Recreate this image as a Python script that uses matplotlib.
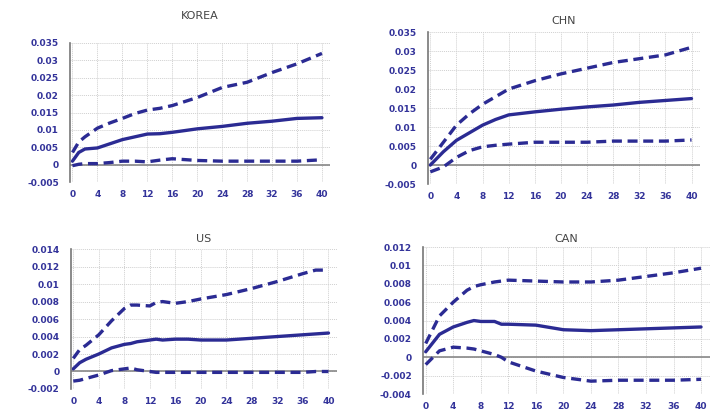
import matplotlib.pyplot as plt
from matplotlib.ticker import FuncFormatter

# impulse responses (horizon in quarters)
korea_x = [0, 1, 2, 4, 6, 8, 10, 12, 14, 16, 20, 24, 28, 32, 36, 40]
korea_mid = [0.001, 0.0035, 0.0045, 0.0048, 0.006, 0.0072, 0.008, 0.0088, 0.0089, 0.0093,
             0.0103, 0.011, 0.0119, 0.0125, 0.0133, 0.0135]
korea_hi = [0.0035, 0.0065, 0.008, 0.0105, 0.012, 0.0133, 0.0147, 0.0157, 0.0162, 0.017,
            0.0193, 0.0222, 0.0237, 0.0265, 0.029, 0.032]
korea_lo = [-0.0003, 0.0001, 0.0003, 0.0003, 0.0006, 0.001, 0.001, 0.0008, 0.0013, 0.0017,
            0.0012, 0.001, 0.001, 0.001, 0.001, 0.0014]

chn_x = [0, 2, 4, 6, 8, 10, 12, 16, 20, 24, 28, 32, 36, 40]
chn_mid = [0.0, 0.0035, 0.0065, 0.0085, 0.0105, 0.012, 0.0132, 0.014, 0.0147, 0.0153,
           0.0158, 0.0165, 0.017, 0.0175]
chn_hi = [0.0015, 0.006, 0.0105, 0.0135, 0.016, 0.018, 0.02, 0.0222, 0.024, 0.0255,
          0.027, 0.028, 0.029, 0.031]
chn_lo = [-0.0018, -0.0005, 0.002, 0.0038, 0.0048, 0.0052, 0.0055, 0.006, 0.006, 0.006,
          0.0063, 0.0063, 0.0063, 0.0066]

us_x = [0, 1, 2, 4, 6, 8, 9, 10, 12, 13, 14, 16, 18, 20, 24, 28, 32, 36, 38, 40]
us_mid = [0.0003, 0.001, 0.0014, 0.002, 0.0027, 0.0031, 0.0032, 0.0034, 0.0036, 0.0037,
          0.0036, 0.0037, 0.0037, 0.0036, 0.0036, 0.0038, 0.004, 0.0042, 0.0043, 0.0044]
us_hi = [0.0015, 0.0025, 0.003, 0.0042, 0.0058, 0.0072, 0.0076, 0.0076, 0.0075, 0.0079,
         0.008, 0.0078, 0.008, 0.0083, 0.0088, 0.0095, 0.0103, 0.0112, 0.0116, 0.0116]
us_lo = [-0.0011, -0.001, -0.0008, -0.0004, 0.0001, 0.0003, 0.0004, 0.0002, 0.0, -0.0001,
         -0.0001, -0.0001, -0.0001, -0.0001, -0.0001, -0.0001, -0.0001, -0.0001, 0.0, 0.0]

can_x = [0, 2, 4, 6, 7, 8, 10, 11, 12, 16, 20, 24, 28, 32, 36, 40]
can_mid = [0.0006, 0.0025, 0.0033, 0.0038, 0.004, 0.0039, 0.0039, 0.0036, 0.0036, 0.0035,
           0.003, 0.0029, 0.003, 0.0031, 0.0032, 0.0033]
can_hi = [0.0015, 0.0045, 0.006, 0.0073, 0.0077, 0.0079, 0.0082, 0.0083, 0.0084, 0.0083,
          0.0082, 0.0082, 0.0084, 0.0088, 0.0092, 0.0097]
can_lo = [-0.0008, 0.0007, 0.0011, 0.001, 0.0009, 0.0007, 0.0003, 0.0, -0.0005, -0.0015,
          -0.0022, -0.0026, -0.0025, -0.0025, -0.0025, -0.0024]

panels = [
    ("KOREA", korea_x, korea_mid, korea_hi, korea_lo, (-0.005, 0.035), 0.005,
     [0.0968, 0.5614, 0.3597, 0.335], 17),
    ("CHN", chn_x, chn_mid, chn_hi, chn_lo, (-0.005, 0.035), 0.005,
     [0.5916, 0.5566, 0.3766, 0.366], 6),
    ("US", us_x, us_mid, us_hi, us_lo, (-0.002, 0.014), 0.002,
     [0.0978, 0.0627, 0.368, 0.337], 5),
    ("CAN", can_x, can_mid, can_hi, can_lo, (-0.004, 0.012), 0.002,
     [0.585, 0.0506, 0.397, 0.354], 4),
]

navy = "#2b2b93"
tick_col = "#33339a"


def fmt(v, pos):
    s = "%.3f" % v
    s = s.rstrip("0").rstrip(".")
    if s in ("-0", ""):
        s = "0"
    return s


fig = plt.figure(figsize=(7.23, 4.15), dpi=100)

for title, x, mid, hi, lo, ylim, step, rect, tpad in panels:
    ax = fig.add_axes(rect)
    ax.plot(x, mid, color=navy, lw=2.4, solid_capstyle="round")
    ax.plot(x, hi, color=navy, lw=2.4, ls=(0, (3.0, 1.7)))
    ax.plot(x, lo, color=navy, lw=2.4, ls=(0, (3.0, 1.7)))
    ax.axhline(0, color="#888888", lw=1.2, zorder=1)

    ax.set_xlim(-0.4, 41.3)
    ax.set_ylim(*ylim)
    n = int(round((ylim[1] - ylim[0]) / step))
    ax.set_yticks([ylim[0] + i * step for i in range(n + 1)])
    ax.set_xticks(range(0, 41, 4))
    ax.yaxis.set_major_formatter(FuncFormatter(fmt))
    ax.grid(True, color="#d0d0d0", ls=(0, (1, 1)), lw=0.7)
    ax.set_axisbelow(True)

    for side in ["top", "right", "bottom"]:
        ax.spines[side].set_visible(False)
    ax.spines["left"].set_color("#777777")
    ax.spines["left"].set_linewidth(1.2)

    ax.tick_params(axis="y", length=0, labelsize=6.5, labelcolor=tick_col, pad=8)
    ax.tick_params(axis="x", length=0, labelsize=6.5, labelcolor=tick_col, pad=6)
    for lab in ax.get_xticklabels() + ax.get_yticklabels():
        lab.set_fontweight("bold")

    ax.set_title(title, fontsize=8, color="#444444", pad=tpad)

plt.savefig("out.png", dpi=100)
